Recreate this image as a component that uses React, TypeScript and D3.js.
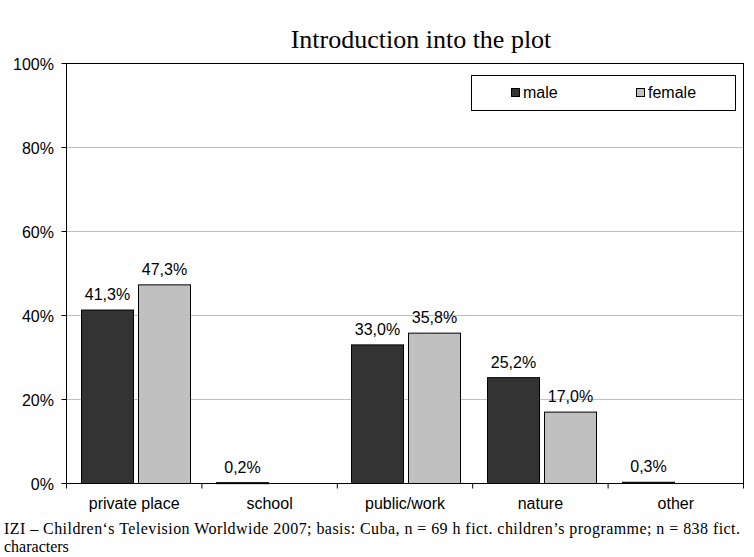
import React from "react";
import * as d3 from "d3";

const categories = ["private place", "school", "public/work", "nature", "other"];
const seriesNames = ["male", "female"];
const maleValues = [41.3, 0.2, 33.0, 25.2, 0.3];
const femaleValues = [47.3, 0, 35.8, 17.0, 0];
const yTicks = [0, 20, 40, 60, 80, 100];
const colors = ["#333333", "#c0c0c0"];

export default function App() {
  const W = 754, H = 557;
  const left = 66.5, right = 743.5, top = 63.5, bottom = 483.5;
  const x = d3.scaleBand<string>().domain(categories).range([left, right]).paddingInner(0).paddingOuter(0);
  const y = d3.scaleLinear().domain([0, 100]).range([bottom, top]);
  const inner = d3.scaleBand<string>().domain(seriesNames).range([14, 123]).paddingInner(0.088).paddingOuter(0);
  const series = [maleValues, femaleValues];
  const fmt = (v: number) => v.toFixed(1).replace(".", ",") + "%";
  const sans = "'Liberation Sans', Arial, sans-serif";
  const serif = "'Liberation Serif', 'Times New Roman', serif";
  const boundaries = [...categories.map((c) => x(c)!), right];
  return (
    <svg width={W} height={H} style={{ position: "absolute", left: 0, top: 0, background: "#fff" }}>
      <text x={421} y={48} textAnchor="middle" fontFamily={serif} fontSize={26}>Introduction into the plot</text>
      {yTicks.filter((t) => t > 0 && t < 100).map((t) => (
        <line key={t} x1={left} x2={right} y1={y(t)} y2={y(t)} stroke="#c0c0c0" strokeWidth={1} />
      ))}
      <rect x={left} y={top} width={right - left} height={bottom - top} fill="none" stroke="#000" strokeWidth={1} />
      {yTicks.map((t) => (
        <g key={t}>
          <line x1={left - 5} x2={left} y1={y(t)} y2={y(t)} stroke="#000" />
          <text x={54} y={y(t) + 6} textAnchor="end" fontFamily={sans} fontSize={16}>{t}%</text>
        </g>
      ))}
      {boundaries.map((b, i) => (
        <line key={i} x1={b} x2={b} y1={bottom} y2={bottom + 5} stroke="#000" />
      ))}
      {categories.map((c, ci) =>
        series.map((vals, si) => {
          const v = vals[ci];
          const bx = Math.round(x(c)! + inner(seriesNames[si])!) + 0.5;
          const bw = Math.round(inner.bandwidth());
          if (v <= 0) return null;
          return (
            <g key={c + si}>
              <rect x={bx} y={y(v)} width={bw} height={Math.max(bottom - y(v), 1)} fill={colors[si]} stroke="#000" strokeWidth={1} />
              <text x={bx + bw / 2} y={y(v) - 10} textAnchor="middle" fontFamily={sans} fontSize={16}>{fmt(v)}</text>
            </g>
          );
        })
      )}
      {categories.map((c) => (
        <text key={c} x={x(c)! + x.bandwidth() / 2} y={509} textAnchor="middle" fontFamily={sans} fontSize={16}>{c}</text>
      ))}
      <rect x={471.5} y={75.5} width={264} height={35} fill="#fff" stroke="#000" strokeWidth={1} />
      {seriesNames.map((s, i) => (
        <g key={s}>
          <rect x={[511.5, 636.5][i]} y={88.5} width={8} height={8} fill={colors[i]} stroke="#000" strokeWidth={1} />
          <text x={[523, 648][i]} y={98} fontFamily={sans} fontSize={16}>{s}</text>
        </g>
      ))}
      <text x={4} y={534} fontFamily={serif} fontSize={16} textLength={736} lengthAdjust="spacing">IZI – Children‘s Television Worldwide 2007; basis: Cuba, n = 69 h fict. children’s programme; n = 838 fict.</text>
      <text x={4} y={552} fontFamily={serif} fontSize={16}>characters</text>
    </svg>
  );
}
